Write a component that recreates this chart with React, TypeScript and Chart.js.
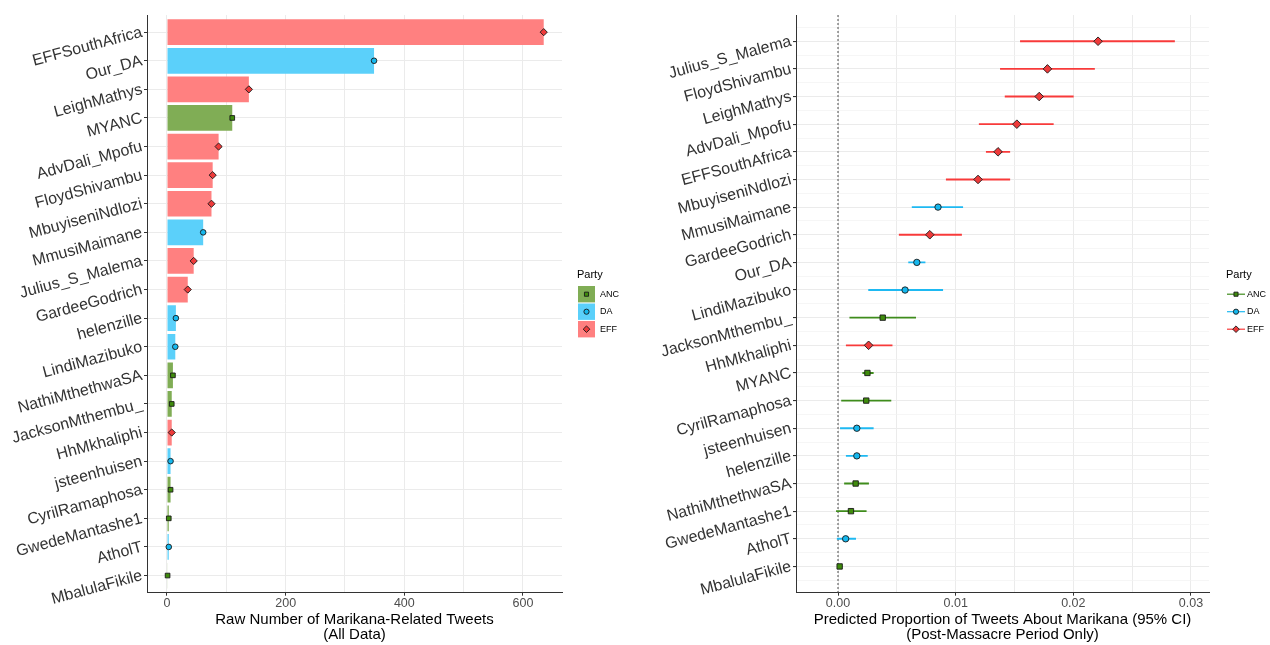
import React, { useEffect, useRef } from 'react';
import { Chart, registerables } from 'chart.js';

Chart.register(...registerables);

// ---------- DATA ----------
const parties = ['ANC', 'DA', 'EFF'];

// Left panel: raw counts (all data), top to bottom
const leftNames = [
  'EFFSouthAfrica', 'Our_DA', 'LeighMathys', 'MYANC', 'AdvDali_Mpofu', 'FloydShivambu',
  'MbuyiseniNdlozi', 'MmusiMaimane', 'Julius_S_Malema', 'GardeeGodrich', 'helenzille',
  'LindiMazibuko', 'NathiMthethwaSA', 'JacksonMthembu_', 'HhMkhaliphi', 'jsteenhuisen',
  'CyrilRamaphosa', 'GwedeMantashe1', 'AtholT', 'MbalulaFikile',
];
const leftParty = [
  'EFF', 'DA', 'EFF', 'ANC', 'EFF', 'EFF', 'EFF', 'DA', 'EFF', 'EFF', 'DA',
  'DA', 'ANC', 'ANC', 'EFF', 'DA', 'ANC', 'ANC', 'DA', 'ANC',
];
const leftCounts = [635, 349, 138, 110, 87, 77, 75, 61, 45, 35, 15, 14, 10, 8, 8, 6, 6, 3, 3, 1];
const leftXBreaks = [0, 200, 400, 600];
const leftXMinor = [100, 300, 500];

// Right panel: predicted proportions (post-massacre), top to bottom
const rightNames = [
  'Julius_S_Malema', 'FloydShivambu', 'LeighMathys', 'AdvDali_Mpofu', 'EFFSouthAfrica',
  'MbuyiseniNdlozi', 'MmusiMaimane', 'GardeeGodrich', 'Our_DA', 'LindiMazibuko',
  'JacksonMthembu_', 'HhMkhaliphi', 'MYANC', 'CyrilRamaphosa', 'jsteenhuisen',
  'helenzille', 'NathiMthethwaSA', 'GwedeMantashe1', 'AtholT', 'MbalulaFikile',
];
const rightParty = [
  'EFF', 'EFF', 'EFF', 'EFF', 'EFF', 'EFF', 'DA', 'EFF', 'DA', 'DA',
  'ANC', 'EFF', 'ANC', 'ANC', 'DA', 'DA', 'ANC', 'ANC', 'DA', 'ANC',
];
const rightEstimate = [
  0.0221, 0.0178, 0.0171, 0.0152, 0.0136, 0.0119, 0.0085, 0.0078, 0.0067, 0.0057,
  0.0038, 0.0026, 0.0025, 0.0024, 0.0016, 0.0016, 0.0015, 0.0011, 0.00065, 0.00014,
];
const rightLower = [
  0.0155, 0.0138, 0.0142, 0.0120, 0.0126, 0.0092, 0.0063, 0.0052, 0.0060, 0.0026,
  0.0010, 0.0007, 0.0021, 0.0003, 0.0002, 0.0007, 0.00055, -0.00014, -0.00007, -0.00005,
];
const rightUpper = [
  0.0286, 0.0218, 0.0200, 0.0183, 0.0146, 0.0146, 0.0106, 0.0105, 0.0074, 0.0089,
  0.0066, 0.0046, 0.0030, 0.0045, 0.0030, 0.0025, 0.0026, 0.0024, 0.0015, 0.00034,
];
const rightXBreaks = [0, 0.01, 0.02, 0.03];
const rightXLabels = ['0.00', '0.01', '0.02', '0.03'];
const rightXMinor = [0.005, 0.015, 0.025];

// ---------- STYLE ----------
const FONT = '"Liberation Sans", Arial, Helvetica, sans-serif';
const LABEL_ROT = 15;
const barColor: Record<string, string> = { ANC: '#80AD55', DA: '#5BD0FA', EFF: '#FF8080' };
const pointColor: Record<string, string> = { ANC: '#3F8C0C', DA: '#16B8EE', EFF: '#EE3A3A' };
const lineColor: Record<string, string> = { ANC: '#3F8C1C', DA: '#1EB9F2', EFF: '#F83A3A' };
const pointStyle: Record<string, string> = { ANC: 'rect', DA: 'circle', EFF: 'rectRot' };
const leftRadius: Record<string, number> = { ANC: 3.3, DA: 2.8, EFF: 3.6 };
const rightRadius: Record<string, number> = { ANC: 3.8, DA: 3.2, EFF: 4.3 };
const legendRadius: Record<string, number> = { ANC: 2.9, DA: 2.6, EFF: 3.3 };

function drawMarker(ctx: CanvasRenderingContext2D, style: string, x: number, y: number, r: number, fill: string) {
  ctx.beginPath();
  if (style === 'rect') {
    const s = r * Math.SQRT1_2;
    ctx.rect(x - s, y - s, 2 * s, 2 * s);
  } else if (style === 'circle') {
    ctx.arc(x, y, r, 0, Math.PI * 2);
  } else {
    ctx.moveTo(x - r, y);
    ctx.lineTo(x, y - r);
    ctx.lineTo(x + r, y);
    ctx.lineTo(x, y + r);
    ctx.closePath();
  }
  ctx.fillStyle = fill;
  ctx.fill();
  ctx.strokeStyle = '#1a1a1a';
  ctx.lineWidth = 0.9;
  ctx.stroke();
}

function legendPlugin(kind: 'box' | 'line', x0: number) {
  return {
    id: 'partyLegend',
    afterDraw(chart: any) {
      const ctx: CanvasRenderingContext2D = chart.ctx;
      ctx.save();
      ctx.textBaseline = 'middle';
      ctx.textAlign = 'left';
      ctx.fillStyle = '#000';
      ctx.font = `11px ${FONT}`;
      ctx.fillText('Party', x0 - 1, 275);
      parties.forEach((p, k) => {
        const cy = 294.2 + k * 17.5;
        const cx = x0 + 8.5;
        if (kind === 'box') {
          ctx.fillStyle = barColor[p];
          ctx.fillRect(x0, cy - 8.2, 17, 16.4);
        } else {
          ctx.beginPath();
          ctx.moveTo(x0, cy);
          ctx.lineTo(x0 + 18, cy);
          ctx.strokeStyle = lineColor[p];
          ctx.lineWidth = 1.2;
          ctx.stroke();
        }
        drawMarker(ctx, pointStyle[p], cx + (kind === 'line' ? 0.5 : 0), cy, legendRadius[p], pointColor[p]);
        ctx.fillStyle = '#000';
        ctx.font = `9px ${FONT}`;
        ctx.fillText(p, x0 + (kind === 'box' ? 22 : 20), cy);
      });
      ctx.restore();
    },
  };
}

const near = (a: number, b: number) => Math.abs(a - b) < 1e-9;

function leftConfig(): any {
  const points = parties.map((p) => ({
    type: 'scatter',
    label: p,
    order: 0,
    data: leftCounts.map((v, i) => ({ x: v, y: i })).filter((_, i) => leftParty[i] === p),
    pointStyle: pointStyle[p],
    pointRadius: leftRadius[p],
    pointHoverRadius: leftRadius[p],
    backgroundColor: pointColor[p],
    borderColor: '#1a1a1a',
    borderWidth: 0.9,
  }));
  return {
    type: 'bar',
    data: {
      datasets: [
        ...points,
        {
          type: 'bar',
          label: 'count',
          indexAxis: 'y',
          order: 1,
          data: leftCounts.map((v, i) => ({ x: v, y: i })),
          backgroundColor: leftParty.map((p) => barColor[p]),
          borderWidth: 0,
          barPercentage: 0.9,
          categoryPercentage: 1,
        },
      ],
    },
    options: {
      animation: false,
      responsive: true,
      maintainAspectRatio: false,
      events: [],
      layout: { padding: { left: 0, right: 78, top: 15, bottom: 0 } },
      plugins: { legend: { display: false }, tooltip: { enabled: false } },
      scales: {
        x: {
          type: 'linear',
          position: 'bottom',
          min: -33.7,
          max: 665.8,
          offset: false,
          grid: {
            offset: false,
            color: '#EBEBEB',
            lineWidth: 1,
            tickLength: 3,
            tickWidth: 1,
            tickColor: (c: any) => (c.tick && leftXBreaks.some((b) => near(b, c.tick.value)) ? '#333' : 'rgba(0,0,0,0)'),
          },
          border: { display: true, color: '#333', width: 1 },
          ticks: {
            autoSkip: false,
            minRotation: 0,
            maxRotation: 0,
            padding: 0,
            color: '#4D4D4D',
            font: { family: FONT, size: 12.5 },
            callback: (v: number) => (leftXBreaks.some((b) => near(b, v)) ? String(v) : ''),
          },
          afterBuildTicks: (s: any) => {
            s.ticks = [...leftXBreaks, ...leftXMinor].sort((a, b) => a - b).map((v) => ({ value: v }));
          },
          afterFit: (s: any) => {
            s.height = 52.3;
          },
          title: {
            display: true,
            text: ['Raw Number of Marikana-Related Tweets', '(All Data)'],
            color: '#000',
            font: { family: FONT, size: 15, lineHeight: 1 },
            padding: { top: 0, bottom: 2.5 },
          },
        },
        y: {
          type: 'linear',
          position: 'left',
          reverse: true,
          min: -0.6,
          max: 19.6,
          offset: false,
          grid: { offset: false, color: '#EBEBEB', lineWidth: 1, tickLength: 3, tickColor: '#333' },
          border: { display: true, color: '#333', width: 1 },
          ticks: {
            autoSkip: false,
            minRotation: LABEL_ROT,
            maxRotation: LABEL_ROT,
            padding: 2,
            color: '#333',
            font: { family: FONT, size: 16 },
            callback: (v: number) => leftNames[v] ?? '',
          },
          afterBuildTicks: (s: any) => {
            s.ticks = leftNames.map((_, i) => ({ value: i }));
          },
          afterFit: (s: any) => {
            s.width = 147;
          },
        },
      },
    },
    plugins: [legendPlugin('box', 578)],
  };
}

function rightConfig(): any {
  const points = parties.map((p) => ({
    type: 'scatter',
    label: p,
    order: 0,
    data: rightEstimate.map((v, i) => ({ x: v, y: i })).filter((_, i) => rightParty[i] === p),
    pointStyle: pointStyle[p],
    pointRadius: rightRadius[p],
    pointHoverRadius: rightRadius[p],
    backgroundColor: pointColor[p],
    borderColor: '#1a1a1a',
    borderWidth: 0.9,
  }));
  const yTicks: number[] = [];
  for (let k = -1; k < rightNames.length * 2; k++) yTicks.push(k / 2);
  return {
    type: 'bar',
    data: {
      datasets: [
        ...points,
        {
          type: 'bar',
          label: 'ci',
          indexAxis: 'y',
          order: 2,
          data: rightLower.map((lo, i) => ({ x: [lo, rightUpper[i]], y: i })),
          backgroundColor: rightParty.map((p) => lineColor[p]),
          borderWidth: 0,
          barThickness: 1.2,
        },
        {
          type: 'line',
          label: 'zero',
          order: 3,
          data: [
            { x: 0, y: -0.95 },
            { x: 0, y: 19.95 },
          ],
          borderColor: '#4D4D4D',
          borderWidth: 1,
          borderDash: [2, 2],
          pointRadius: 0,
          fill: false,
        },
      ],
    },
    options: {
      animation: false,
      responsive: true,
      maintainAspectRatio: false,
      events: [],
      layout: { padding: { left: 0, right: 61, top: 15, bottom: 0 } },
      plugins: { legend: { display: false }, tooltip: { enabled: false } },
      scales: {
        x: {
          type: 'linear',
          position: 'bottom',
          min: -0.00357,
          max: 0.03153,
          offset: false,
          grid: {
            offset: false,
            color: '#EBEBEB',
            lineWidth: 1,
            tickLength: 3,
            tickWidth: 1,
            tickColor: (c: any) => (c.tick && rightXBreaks.some((b) => near(b, c.tick.value)) ? '#333' : 'rgba(0,0,0,0)'),
          },
          border: { display: true, color: '#333', width: 1 },
          ticks: {
            autoSkip: false,
            minRotation: 0,
            maxRotation: 0,
            padding: 0,
            color: '#4D4D4D',
            font: { family: FONT, size: 12.5 },
            callback: (v: number) => {
              const k = rightXBreaks.findIndex((b) => near(b, v));
              return k >= 0 ? rightXLabels[k] : '';
            },
          },
          afterBuildTicks: (s: any) => {
            s.ticks = [...rightXBreaks, ...rightXMinor].sort((a, b) => a - b).map((v) => ({ value: v }));
          },
          afterFit: (s: any) => {
            s.height = 52.3;
          },
          title: {
            display: true,
            text: ['Predicted Proportion of Tweets About Marikana (95% CI)', '(Post-Massacre Period Only)'],
            color: '#000',
            font: { family: FONT, size: 15, lineHeight: 1 },
            padding: { top: 0, bottom: 2.5 },
          },
        },
        y: {
          type: 'linear',
          position: 'left',
          reverse: true,
          min: -0.95,
          max: 19.95,
          offset: false,
          grid: {
            offset: false,
            color: (c: any) => (c.tick && Number.isInteger(c.tick.value) ? '#EBEBEB' : '#F2F2F2'),
            lineWidth: (c: any) => (c.tick && Number.isInteger(c.tick.value) ? 1.1 : 0.7),
            tickLength: 3,
            tickColor: (c: any) => (c.tick && Number.isInteger(c.tick.value) ? '#333' : 'rgba(0,0,0,0)'),
          },
          border: { display: true, color: '#333', width: 1 },
          ticks: {
            autoSkip: false,
            minRotation: LABEL_ROT,
            maxRotation: LABEL_ROT,
            padding: 2,
            color: '#333',
            font: { family: FONT, size: 16 },
            callback: (v: number) => (Number.isInteger(v) ? rightNames[v] ?? '' : ''),
          },
          afterBuildTicks: (s: any) => {
            s.ticks = yTicks.map((v) => ({ value: v }));
          },
          afterFit: (s: any) => {
            s.width = 156;
          },
        },
      },
    },
    plugins: [legendPlugin('line', 587)],
  };
}

export default function App() {
  const leftRef = useRef<HTMLCanvasElement>(null);
  const rightRef = useRef<HTMLCanvasElement>(null);
  useEffect(() => {
    const c1 = new Chart(leftRef.current as HTMLCanvasElement, leftConfig());
    const c2 = new Chart(rightRef.current as HTMLCanvasElement, rightConfig());
    return () => {
      c1.destroy();
      c2.destroy();
    };
  }, []);
  return (
    <div style={{ position: 'fixed', left: 0, top: 0, width: 1270, height: 645, background: '#fff', overflow: 'hidden' }}>
      <div style={{ position: 'absolute', left: 0, top: 0, width: 640, height: 645 }}>
        <canvas ref={leftRef} />
      </div>
      <div style={{ position: 'absolute', left: 640, top: 0, width: 630, height: 645 }}>
        <canvas ref={rightRef} />
      </div>
    </div>
  );
}
